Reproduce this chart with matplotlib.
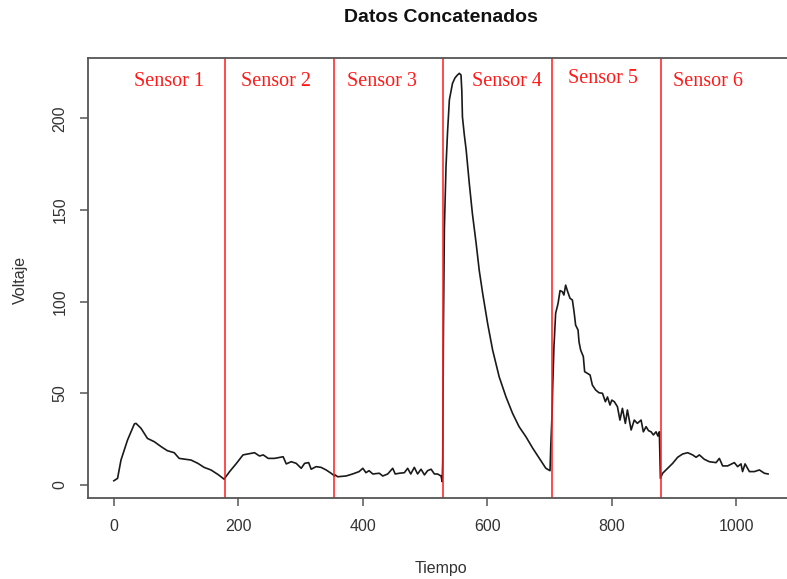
import numpy as np
import matplotlib
matplotlib.use('Agg')
import matplotlib.pyplot as plt

# tiempo / voltaje por sensor
t_s1 = [0, 6, 11.5, 22, 33, 35.6, 43.7, 54, 65, 76, 86, 97, 105, 116, 124, 135, 145, 156, 167, 177.5]
v_s1 = [2.3, 3.6, 13.6, 24.5, 33.3, 33.6, 30.9, 25.4, 23.6, 20.9, 18.7, 17.6, 14.5, 14, 13.6, 11.8, 9.6, 8.2, 5.8, 3.1]

t_s2 = [178, 186, 197, 207.5, 215.6, 226, 234, 240, 248, 258, 272, 277, 285, 293, 301, 306.5, 313, 317, 325, 333, 341, 349, 354.7]
v_s2 = [3.6, 7.3, 11.8, 16.4, 16.9, 17.6, 15.8, 16.4, 14.5, 14.5, 15.4, 11.5, 12.7, 11.8, 9.1, 11.8, 12.2, 8.6, 10, 9.6, 8.2, 6.4, 4.9]

t_s3 = [355.5, 359.5, 373, 383.6, 394, 400, 405, 410, 416, 426.5, 432, 440, 448, 452, 458.6, 466.7,
        472, 477, 482.7, 488, 493.5, 499, 504, 509.6, 515, 520, 525.6, 527.5]
v_s3 = [5.5, 4.5, 4.9, 6, 7.3, 9.1, 6.7, 7.8, 6, 6.4, 4.9, 6, 9.1, 6, 6.4, 6.7,
        9.1, 6, 9.6, 6, 8.6, 5.5, 7.8, 8.6, 6, 6, 4.9, 1.8]

t_s4 = [528.3, 529.5, 531, 533.6, 536, 539, 544, 548, 552, 555, 557.7, 559, 560, 563, 566, 571, 576,
        582, 587, 592.5, 600.5, 608.5, 619, 630, 640.6, 651, 662, 673, 683.5, 694, 700.7]
v_s4 = [12.5, 86, 140, 173.6, 192, 210, 219, 222, 223.6, 224.5, 223.6, 215, 200.8, 191, 182.7, 164.5, 148,
        131.8, 117, 104.5, 88, 73.6, 59, 48, 39, 31.8, 26.3, 20, 14.5, 9.1, 7.8]

t_s5 = [702, 704, 705, 707, 709.7, 713.6, 716.8, 720.5, 723, 725.8, 728.5, 732.8, 736.6, 739.3, 741.8,
        745.7, 747.3, 749.9, 754.2, 756.3, 760.6, 765, 768.7, 774, 779.4, 785, 789.6, 793, 797, 800,
        804, 809, 813, 817, 821.7, 825, 831, 836, 841, 847, 850.6, 855, 859, 863, 866.7, 871, 874, 876.3]
v_s5 = [22, 39, 53.6, 75.4, 93.6, 99, 106, 105.4, 103.6, 109, 106, 101.8, 100.9, 94.5, 87.2,
        84.5, 78, 73.6, 70, 61.8, 60.9, 60, 54.5, 51.8, 50.3, 50, 45.4, 48, 43.6, 46.3,
        45.4, 42.7, 35.4, 41.8, 33.6, 40.9, 30, 35.4, 33.6, 35.4, 29, 31.8, 29.6, 29, 27.3, 29, 26.7, 29]

t_s6 = [878, 881.6, 889.6, 897.7, 905.7, 913.7, 921.8, 929.8, 935.3, 940.6, 948.6, 956.6, 967.4, 972.7,
        978, 986, 996.8, 1002, 1007.5, 1010, 1014, 1021, 1029, 1037, 1045, 1051]
v_s6 = [3.6, 6.4, 9.1, 11.8, 15.1, 16.9, 17.6, 16.4, 15.1, 16.4, 14, 12.7, 12.2, 14.5,
        10.4, 10.4, 12.2, 10, 11.5, 7.3, 11.5, 7.3, 7.3, 8.2, 6.4, 6]

limites = [178, 354, 529, 704, 879]
sensores = ['Sensor 1', 'Sensor 2', 'Sensor 3', 'Sensor 4', 'Sensor 5', 'Sensor 6']
sensor_x = [89, 261, 431, 632, 785, 955]
sensor_y = [220, 220, 220, 220, 221.5, 220]

tiempo = np.concatenate([t_s1, t_s2, t_s3, t_s4, t_s5, t_s6])
voltaje = np.concatenate([v_s1, v_s2, v_s3, v_s4, v_s5, v_s6])

fig = plt.figure(figsize=(7.87, 5.79), dpi=100)
ax = fig.add_axes([0.1122, 0.1399, 0.897, 0.7594])

ax.plot(tiempo, voltaje, color='#1a1a1a', lw=1.2)
for b in limites:
    ax.axvline(b, color='#ff1a1a', lw=1.1)
for s, x, y in zip(sensores, sensor_x, sensor_y):
    ax.text(x, y, s, color='#ff1a1a', fontsize=14.5, family='Liberation Serif',
            ha='center', va='center')

ax.set_xlim(-41, 1093)
ax.set_ylim(-7.1, 232.7)
ax.set_xticks([0, 200, 400, 600, 800, 1000])
ax.set_yticks([0, 50, 100, 150, 200])
for sp in ax.spines.values():
    sp.set_color('#555555')
    sp.set_linewidth(1.3)
ax.tick_params(direction='out', length=6, width=1.1, color='#555555',
               labelsize=11.5, labelcolor='#333333', pad=9)
for lab in ax.get_xticklabels() + ax.get_yticklabels():
    lab.set_family('Liberation Sans')
plt.setp(ax.get_yticklabels(), rotation=90, va='center')

fig.text(441 / 787, 1 - 18 / 579, 'Datos Concatenados', ha='center', va='center',
         fontsize=14, fontweight='bold', family='Liberation Sans', color='#111111')
fig.text(441 / 787, 1 - 568 / 579, 'Tiempo', ha='center', va='center',
         fontsize=11.5, family='Liberation Sans', color='#333333')
fig.text(20 / 787, 1 - 280 / 579, 'Voltaje', ha='center', va='center', rotation=90,
         fontsize=11.5, family='Liberation Sans', color='#333333')

fig.savefig('out.png', dpi=100)
